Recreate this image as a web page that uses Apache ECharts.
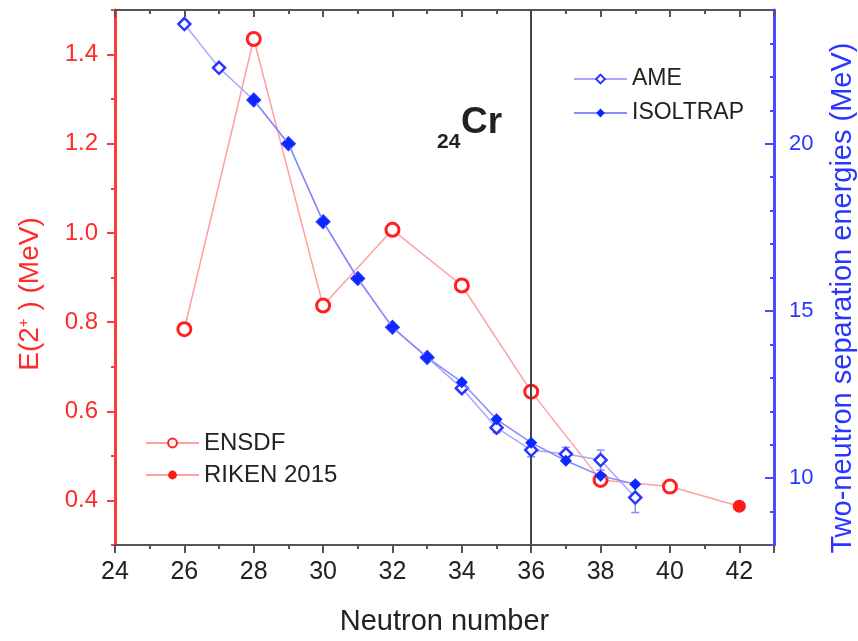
<!DOCTYPE html>
<html>
<head>
<meta charset="utf-8">
<script src="https://cdn.jsdelivr.net/npm/echarts@6/dist/echarts.min.js"></script>
<style>
html, body { margin: 0; padding: 0; background: #fff; }
#chart { width: 858px; height: 641px; }
</style>
</head>
<body>
<div id="chart"></div>
<script>
// E(2+) energies, MeV (left axis)
var ensdfN = [26, 28, 30, 32, 34, 36, 38, 40];
var ensdfE = [0.784, 1.435, 0.837, 1.007, 0.882, 0.644, 0.446, 0.431];
var rikenN = [40, 42];
var rikenE = [0.431, 0.387];

// two-neutron separation energies, MeV (right axis)
var ameN = [26, 27, 28, 29, 30, 31, 32, 33, 34, 35, 36, 37, 38, 39];
var ameS2n = [23.58, 22.27, 21.31, 20.0, 17.67, 15.97, 14.51, 13.61, 12.69, 11.51, 10.84, 10.72, 10.54, 9.42];
var ameErr = [0, 0, 0, 0, 0, 0, 0, 0, 0.1, 0.15, 0.2, 0.2, 0.3, 0.45];
var isoN = [28, 29, 30, 31, 32, 33, 34, 35, 36, 37, 38, 39];
var isoS2n = [21.31, 20.0, 17.67, 15.97, 14.51, 13.61, 12.87, 11.76, 11.06, 10.52, 10.07, 9.82];

var leftLabels = [0.4, 0.6, 0.8, 1.0, 1.2, 1.4];
var leftMinor = [0.3, 0.5, 0.7, 0.9, 1.1, 1.3, 1.5];
var rightLabels = [10, 15, 20];
var rightMinor = [8, 9, 11, 12, 13, 14, 16, 17, 18, 19, 21, 22, 23, 24];

var FONT = '"Liberation Sans", Arial, Helvetica, sans-serif';
var RED = '#ff2a2a';
var BLUE = '#2a36ff';

function pairs(xs, ys) {
    var out = [];
    for (var i = 0; i < xs.length; i++) out.push([xs[i], ys[i]]);
    return out;
}

var rikenData = pairs(rikenN, rikenE);
rikenData[0] = { value: rikenData[0], symbol: 'none' };

var errData = [];
for (var i = 0; i < ameN.length; i++) {
    if (ameErr[i] > 0) errData.push([ameN[i], ameS2n[i] - ameErr[i], ameS2n[i] + ameErr[i]]);
}

var chart = echarts.init(document.getElementById('chart'));

chart.setOption({
    animation: false,
    textStyle: { fontFamily: FONT },
    grid: { left: 115, right: 84, top: 10, bottom: 95 },
    legend: [
        {
            data: ['ENSDF', 'RIKEN 2015'],
            orient: 'vertical', left: 140, top: 426,
            itemWidth: 53, itemHeight: 11, itemGap: 8,
            textStyle: { fontSize: 24, color: '#222', fontFamily: FONT, lineHeight: 24 }
        },
        {
            data: ['AME', 'ISOLTRAP'],
            orient: 'vertical', left: 568, top: 62,
            itemWidth: 53, itemHeight: 11, itemGap: 10,
            textStyle: { fontSize: 23, color: '#222', fontFamily: FONT, lineHeight: 24 }
        }
    ],
    xAxis: [
        {
            type: 'value', position: 'bottom', min: 24, max: 43, interval: 2,
            name: 'Neutron number', nameLocation: 'middle', nameGap: 62,
            nameTextStyle: { fontSize: 29, color: '#222', fontFamily: FONT },
            axisLine: { lineStyle: { color: '#555', width: 2 } },
            axisTick: { length: 8, lineStyle: { color: '#555', width: 2 } },
            minorTick: { show: true, splitNumber: 2, length: 4, lineStyle: { color: '#555', width: 2 } },
            axisLabel: {
                fontSize: 25, color: '#222', margin: 15,
                formatter: function (v) { return v % 2 === 0 ? String(v) : ''; }
            },
            splitLine: { show: false }
        },
        {
            type: 'value', position: 'top', min: 24, max: 43, interval: 2,
            axisLine: { lineStyle: { color: '#555', width: 2 } },
            axisTick: { inside: true, length: 7, lineStyle: { color: '#555', width: 2 } },
            minorTick: { show: true, splitNumber: 2, length: 4, lineStyle: { color: '#555', width: 2 } },
            axisLabel: { show: false },
            splitLine: { show: false }
        }
    ],
    yAxis: [
        {
            type: 'value', position: 'left', min: 0.3, max: 1.5, interval: 0.1,
            axisLine: { show: true, lineStyle: { color: '#ff3a3a', width: 3 } },
            axisTick: { show: true, length: 8, customValues: leftLabels, lineStyle: { color: '#ff3a3a', width: 2 } },
            axisLabel: {
                customValues: leftLabels, fontSize: 24, color: RED, margin: 17,
                formatter: function (v) { return v.toFixed(1); }
            },
            splitLine: { show: false }
        },
        {
            type: 'value', position: 'right', min: 8, max: 24, interval: 1,
            axisLine: { show: true, lineStyle: { color: '#4a4aff', width: 3 } },
            axisTick: { show: true, inside: true, length: 9, customValues: rightLabels, lineStyle: { color: '#4a4aff', width: 2 } },
            axisLabel: { customValues: rightLabels, fontSize: 22, color: BLUE, margin: 15 },
            splitLine: { show: false }
        },
        {
            type: 'value', position: 'left', min: 0.3, max: 1.5, interval: 0.1,
            axisLine: { show: false },
            axisTick: { show: true, length: 4, customValues: leftMinor, lineStyle: { color: '#ff3a3a', width: 2 } },
            axisLabel: { show: false },
            splitLine: { show: false }
        },
        {
            type: 'value', position: 'right', min: 8, max: 24, interval: 1,
            axisLine: { show: false },
            axisTick: { show: true, inside: true, length: 4, customValues: rightMinor, lineStyle: { color: '#4a4aff', width: 2 } },
            axisLabel: { show: false },
            splitLine: { show: false }
        }
    ],
    graphic: [
        {
            type: 'text', x: 30, y: 294, rotation: Math.PI / 2,
            style: {
                text: '{a|E(2}{s|+}{a| ) (MeV)}',
                align: 'center', verticalAlign: 'middle',
                fill: RED,
                rich: {
                    a: { fontSize: 28, fontFamily: FONT, fill: RED, color: RED },
                    s: { fontSize: 15, fontFamily: FONT, fill: RED, color: RED, verticalAlign: 'top' }
                }
            }
        },
        {
            type: 'text', x: 843, y: 298, rotation: Math.PI / 2,
            style: {
                text: 'Two-neutron separation energies (MeV)',
                align: 'center', verticalAlign: 'middle',
                fontSize: 29, fontFamily: FONT, fill: BLUE
            }
        },
        {
            type: 'text', x: 437, y: 153,
            style: { text: '24', fontSize: 21, fontWeight: 'bold', fontFamily: FONT, fill: '#222', verticalAlign: 'bottom' }
        },
        {
            type: 'text', x: 461, y: 141,
            style: { text: 'Cr', fontSize: 37, fontWeight: 'bold', fontFamily: FONT, fill: '#222', verticalAlign: 'bottom' }
        }
    ],
    series: [
        {
            name: 'ENSDF', type: 'line', xAxisIndex: 0, yAxisIndex: 0,
            data: pairs(ensdfN, ensdfE),
            symbol: 'circle', symbolSize: 13,
            itemStyle: { color: '#fff', borderColor: '#ff2020', borderWidth: 3 },
            lineStyle: { color: '#ffa0a0', width: 1.5 },
            z: 3,
            markLine: {
                silent: true, symbol: 'none', label: { show: false },
                lineStyle: { color: '#444', width: 2, type: 'solid' },
                data: [{ xAxis: 36 }]
            }
        },
        {
            name: 'RIKEN 2015', type: 'line', xAxisIndex: 0, yAxisIndex: 0,
            data: rikenData,
            symbol: 'circle', symbolSize: 13,
            itemStyle: { color: '#ff1a1a' },
            lineStyle: { color: '#ffa0a0', width: 1.5 },
            z: 3
        },
        {
            name: 'AME err', type: 'custom', xAxisIndex: 0, yAxisIndex: 1,
            data: errData, z: 4,
            renderItem: function (params, api) {
                var lo = api.coord([api.value(0), api.value(1)]);
                var hi = api.coord([api.value(0), api.value(2)]);
                var c = { stroke: '#8a8aff', lineWidth: 1.5 };
                return {
                    type: 'group',
                    children: [
                        { type: 'line', shape: { x1: lo[0], y1: lo[1], x2: hi[0], y2: hi[1] }, style: c },
                        { type: 'line', shape: { x1: lo[0] - 4, y1: lo[1], x2: lo[0] + 4, y2: lo[1] }, style: c },
                        { type: 'line', shape: { x1: hi[0] - 4, y1: hi[1], x2: hi[0] + 4, y2: hi[1] }, style: c }
                    ]
                };
            }
        },
        {
            name: 'AME', type: 'line', xAxisIndex: 0, yAxisIndex: 1,
            data: pairs(ameN, ameS2n),
            symbol: 'diamond', symbolSize: 12,
            itemStyle: { color: '#fff', borderColor: '#2a36ff', borderWidth: 2.5 },
            lineStyle: { color: '#a8a8ff', width: 1.5 },
            z: 5
        },
        {
            name: 'ISOLTRAP', type: 'line', xAxisIndex: 0, yAxisIndex: 1,
            data: pairs(isoN, isoS2n),
            symbol: 'diamond', symbolSize: 12,
            itemStyle: { color: '#0a28ff' },
            lineStyle: { color: '#8a8aff', width: 1.5 },
            z: 6
        }
    ]
});
</script>
</body>
</html>
